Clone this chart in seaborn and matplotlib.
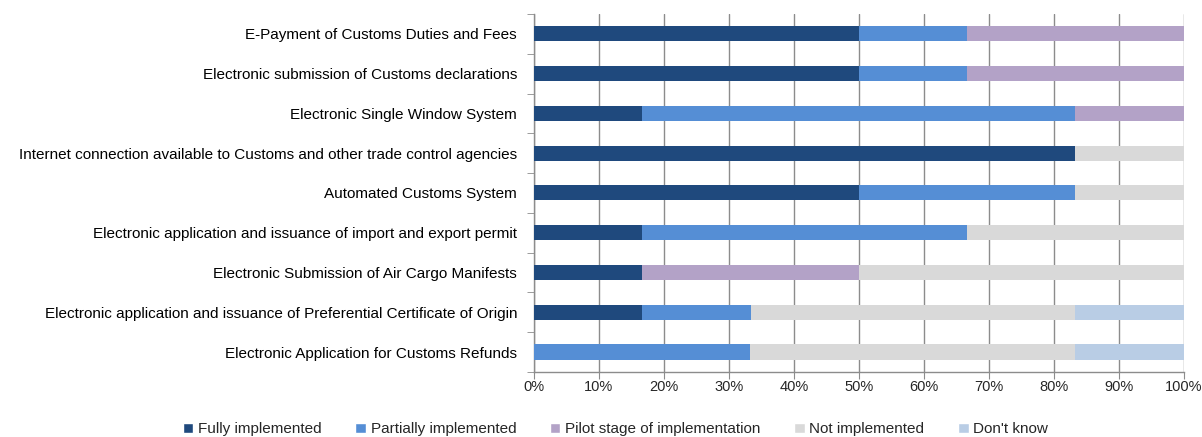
import numpy as np
import pandas as pd
import matplotlib
matplotlib.use('Agg')
import matplotlib.pyplot as plt
import seaborn as sns
from matplotlib.patches import Patch
from matplotlib.ticker import FixedLocator, PercentFormatter

measures = [
    'E-Payment of Customs Duties and Fees',
    'Electronic submission of Customs declarations',
    'Electronic Single Window System',
    'Internet connection available to Customs and other trade control agencies',
    'Automated Customs System',
    'Electronic application and issuance of import and export permit',
    'Electronic Submission of Air Cargo Manifests',
    'Electronic application and issuance of Preferential Certificate of Origin',
    'Electronic Application for Customs Refunds',
]
statuses = ['Fully implemented', 'Partially implemented', 'Pilot stage of implementation',
            'Not implemented', "Don't know"]

fully = [50.0, 50.0, 16.7, 83.3, 50.0, 16.7, 16.7, 16.7, 0.0]
partially = [16.7, 16.7, 66.7, 0.0, 33.3, 50.0, 0.0, 16.7, 33.3]
pilot = [33.3, 33.3, 16.7, 0.0, 0.0, 0.0, 33.3, 0.0, 0.0]
not_impl = [0.0, 0.0, 0.0, 16.7, 16.7, 33.3, 50.0, 50.0, 50.0]
dont_know = [0.0, 0.0, 0.0, 0.0, 0.0, 0.0, 0.0, 16.7, 16.7]

colors = ['#1f497d', '#558ed5', '#b3a2c7', '#d9d9d9', '#b9cde5']

df = pd.DataFrame({'measure': measures, statuses[0]: fully, statuses[1]: partially,
                   statuses[2]: pilot, statuses[3]: not_impl, statuses[4]: dont_know})
vals = df[statuses].to_numpy()
vals = vals / vals.sum(axis=1, keepdims=True) * 100
cum = np.cumsum(vals, axis=1)

sns.set_style('white')
plt.rcParams['font.family'] = ['Liberation Sans', 'DejaVu Sans']

fig = plt.figure(figsize=(12.02, 4.37), dpi=100)
ax = fig.add_axes([0.444, 0.149, 0.541, 0.819])

# stacked bars: draw cumulative totals from the outermost segment inwards
for i in range(len(statuses) - 1, -1, -1):
    sns.barplot(x=cum[:, i], y=df['measure'], orient='h', color=colors[i],
                width=0.38, saturation=1, ax=ax, zorder=3, linewidth=0)

ax.set_xlim(0, 100)
ax.set_ylim(len(measures) - 0.5, -0.5)
ax.xaxis.set_major_locator(FixedLocator(np.arange(0, 101, 10)))
ax.xaxis.set_major_formatter(PercentFormatter(decimals=0))
ax.grid(axis='x', color='#8c8c8c', linewidth=1, zorder=0)
ax.set_axisbelow(True)
ax.set_xlabel('')
ax.set_ylabel('')

ax.yaxis.set_minor_locator(FixedLocator(np.arange(-0.5, len(measures), 1)))
ax.tick_params(axis='y', which='major', length=0, labelsize=11, pad=12, colors='#000000')
ax.tick_params(axis='y', which='minor', length=5, color='#8c8c8c', left=True)
ax.tick_params(axis='x', which='major', length=5, color='#8c8c8c', bottom=True,
               labelsize=10.5, pad=1)

for side in ['top', 'right']:
    ax.spines[side].set_visible(False)
for side in ['left', 'bottom']:
    ax.spines[side].set_color('#8c8c8c')
    ax.spines[side].set_linewidth(1)

handles = [Patch(facecolor=c, label=s) for c, s in zip(colors, statuses)]
fig.legend(handles=handles, loc='lower center', bbox_to_anchor=(0.512, -0.03), ncol=5,
           frameon=False, fontsize=11, handlelength=0.7, handleheight=0.7,
           handletextpad=0.3, columnspacing=2.2)

fig.savefig('out.png', dpi=100)
